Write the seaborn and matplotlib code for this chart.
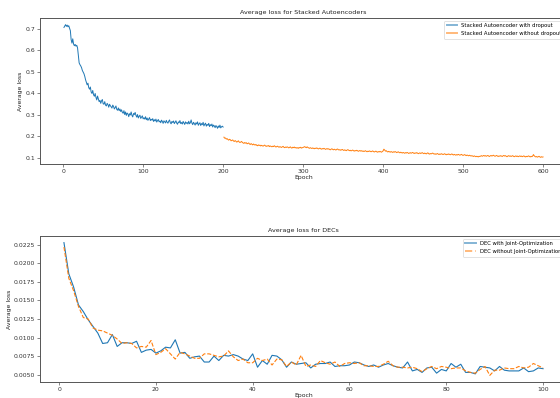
import numpy as np
import pandas as pd
import matplotlib
matplotlib.use("Agg")
import matplotlib.pyplot as plt
import seaborn as sns

# ---------------- data ----------------
sae_dropout_loss = [
    0.705, 0.712, 0.718, 0.710, 0.716, 0.708, 0.713, 0.702, 0.690, 0.648,
    0.632, 0.652, 0.628, 0.620, 0.626, 0.618, 0.622, 0.610, 0.575, 0.540,
    0.532, 0.526, 0.518, 0.505, 0.498, 0.490, 0.478, 0.462, 0.450, 0.438,
    0.446, 0.425, 0.418, 0.428, 0.405, 0.398, 0.412, 0.392, 0.385, 0.398,
    0.380, 0.368, 0.386, 0.372, 0.360, 0.366, 0.352, 0.364, 0.370, 0.350,
    0.348, 0.360, 0.344, 0.340, 0.352, 0.346, 0.334, 0.348, 0.341, 0.336,
    0.330, 0.344, 0.338, 0.326, 0.332, 0.340, 0.324, 0.320, 0.331, 0.318,
    0.326, 0.314, 0.322, 0.310, 0.306, 0.318, 0.300, 0.312, 0.296, 0.307,
    0.303, 0.290, 0.304, 0.298, 0.312, 0.296, 0.289, 0.305, 0.300, 0.310,
    0.296, 0.288, 0.300, 0.284, 0.292, 0.297, 0.282, 0.288, 0.294, 0.280,
    0.285, 0.279, 0.290, 0.276, 0.284, 0.273, 0.280, 0.286, 0.272, 0.278,
    0.274, 0.281, 0.268, 0.276, 0.270, 0.279, 0.265, 0.272, 0.277, 0.266,
    0.270, 0.262, 0.274, 0.268, 0.259, 0.271, 0.266, 0.261, 0.273, 0.264,
    0.260, 0.269, 0.275, 0.262, 0.257, 0.268, 0.263, 0.270, 0.258, 0.264,
    0.271, 0.260, 0.255, 0.266, 0.262, 0.272, 0.258, 0.263, 0.256, 0.268,
    0.261, 0.254, 0.266, 0.259, 0.263, 0.256, 0.269, 0.257, 0.262, 0.275,
    0.260, 0.253, 0.264, 0.258, 0.251, 0.262, 0.256, 0.266, 0.250, 0.257,
    0.262, 0.249, 0.258, 0.253, 0.264, 0.247, 0.255, 0.260, 0.246, 0.254,
    0.250, 0.259, 0.244, 0.253, 0.248, 0.256, 0.242, 0.251, 0.247, 0.239,
    0.249, 0.244, 0.236, 0.247, 0.240, 0.251, 0.238, 0.243, 0.246, 0.242,
]
sae_nodropout_loss = [
    0.195, 0.190, 0.191, 0.186, 0.188, 0.184, 0.181, 0.185, 0.183, 0.178,
    0.180, 0.182, 0.177, 0.175, 0.179, 0.176, 0.172, 0.174, 0.178, 0.173,
    0.170, 0.172, 0.175, 0.171, 0.168, 0.166, 0.170, 0.167, 0.169, 0.164,
    0.166, 0.168, 0.163, 0.161, 0.165, 0.162, 0.159, 0.163, 0.160, 0.158,
    0.161, 0.157, 0.155, 0.159, 0.156, 0.158, 0.154, 0.157, 0.155, 0.153,
    0.156, 0.158, 0.154, 0.152, 0.155, 0.153, 0.156, 0.151, 0.154, 0.152,
    0.150, 0.153, 0.151, 0.155, 0.152, 0.149, 0.151, 0.153, 0.150, 0.148,
    0.151, 0.149, 0.147, 0.150, 0.152, 0.148, 0.146, 0.149, 0.147, 0.150,
    0.148, 0.145, 0.147, 0.150, 0.146, 0.144, 0.148, 0.146, 0.149, 0.145,
    0.147, 0.144, 0.146, 0.143, 0.147, 0.145, 0.148, 0.144, 0.146, 0.147,
    0.149, 0.151, 0.148, 0.146, 0.150, 0.147, 0.145, 0.143, 0.146, 0.144,
    0.142, 0.145, 0.143, 0.141, 0.144, 0.142, 0.145, 0.143, 0.140, 0.142,
    0.144, 0.141, 0.139, 0.142, 0.140, 0.143, 0.141, 0.138, 0.140, 0.142,
    0.139, 0.141, 0.138, 0.136, 0.139, 0.141, 0.138, 0.136, 0.139, 0.137,
    0.135, 0.138, 0.140, 0.137, 0.135, 0.137, 0.134, 0.136, 0.138, 0.135,
    0.133, 0.136, 0.134, 0.132, 0.135, 0.137, 0.134, 0.132, 0.134, 0.131,
    0.133, 0.135, 0.132, 0.130, 0.133, 0.131, 0.134, 0.132, 0.129, 0.131,
    0.133, 0.130, 0.132, 0.129, 0.131, 0.128, 0.130, 0.132, 0.129, 0.127,
    0.130, 0.128, 0.131, 0.129, 0.127, 0.129, 0.131, 0.128, 0.126, 0.128,
    0.130, 0.127, 0.125, 0.128, 0.126, 0.129, 0.127, 0.125, 0.128, 0.131,
    0.139, 0.135, 0.130, 0.132, 0.128, 0.126, 0.129, 0.127, 0.125, 0.128,
    0.126, 0.124, 0.127, 0.125, 0.128, 0.126, 0.123, 0.125, 0.127, 0.124,
    0.122, 0.125, 0.123, 0.121, 0.124, 0.122, 0.120, 0.123, 0.121, 0.124,
    0.122, 0.119, 0.121, 0.123, 0.120, 0.122, 0.124, 0.121, 0.119, 0.122,
    0.120, 0.123, 0.121, 0.118, 0.120, 0.122, 0.119, 0.121, 0.123, 0.120,
    0.118, 0.121, 0.119, 0.117, 0.120, 0.122, 0.118, 0.116, 0.119, 0.117,
    0.119, 0.121, 0.118, 0.116, 0.118, 0.115, 0.117, 0.119, 0.116, 0.114,
    0.117, 0.115, 0.118, 0.116, 0.114, 0.116, 0.118, 0.115, 0.113, 0.116,
    0.114, 0.117, 0.115, 0.113, 0.115, 0.117, 0.114, 0.112, 0.115, 0.113,
    0.111, 0.114, 0.112, 0.115, 0.113, 0.111, 0.113, 0.115, 0.112, 0.110,
    0.112, 0.114, 0.111, 0.109, 0.112, 0.110, 0.108, 0.111, 0.109, 0.107,
    0.109, 0.107, 0.105, 0.108, 0.106, 0.104, 0.106, 0.105, 0.103, 0.106,
    0.105, 0.107, 0.109, 0.106, 0.108, 0.110, 0.107, 0.109, 0.106, 0.108,
    0.110, 0.107, 0.105, 0.108, 0.110, 0.107, 0.109, 0.111, 0.108, 0.106,
    0.108, 0.110, 0.107, 0.105, 0.108, 0.106, 0.109, 0.107, 0.105, 0.108,
    0.110, 0.107, 0.109, 0.106, 0.104, 0.107, 0.109, 0.106, 0.108, 0.105,
    0.107, 0.109, 0.106, 0.104, 0.106, 0.108, 0.105, 0.107, 0.104, 0.106,
    0.108, 0.105, 0.107, 0.104, 0.106, 0.108, 0.105, 0.103, 0.106, 0.104,
    0.106, 0.108, 0.105, 0.103, 0.106, 0.104, 0.107, 0.114, 0.108, 0.105,
    0.103, 0.105, 0.102, 0.104, 0.106, 0.103, 0.101, 0.104, 0.102, 0.103,
]
sae_dropout_epochs = list(range(1, 201))
sae_nodropout_epochs = list(range(201, 601))

dec_joint_loss = [
    0.0228, 0.0186, 0.0168, 0.0144, 0.0135, 0.0124, 0.0115, 0.0106, 0.0092, 0.0093,
    0.0104, 0.0088, 0.0093, 0.0093, 0.0092, 0.0095, 0.0080, 0.0083, 0.0084, 0.0079,
    0.0082, 0.0087, 0.0086, 0.0097, 0.0079, 0.0080, 0.0072, 0.0074, 0.0075, 0.0067,
    0.0067, 0.0075, 0.0069, 0.0076, 0.0075, 0.0077, 0.0075, 0.0071, 0.0069, 0.0078,
    0.0060, 0.0069, 0.0064, 0.0076, 0.0075, 0.0070, 0.0060, 0.0067, 0.0064, 0.0065,
    0.0066, 0.0059, 0.0064, 0.0065, 0.0065, 0.0067, 0.0061, 0.0062, 0.0062, 0.0063,
    0.0067, 0.0066, 0.0063, 0.0061, 0.0063, 0.0060, 0.0063, 0.0065, 0.0062, 0.0060,
    0.0059, 0.0067, 0.0055, 0.0057, 0.0053, 0.0059, 0.0060, 0.0052, 0.0057, 0.0055,
    0.0065, 0.0060, 0.0064, 0.0053, 0.0053, 0.0051, 0.0061, 0.0060, 0.0059, 0.0055,
    0.0061, 0.0056, 0.0055, 0.0055, 0.0055, 0.0059, 0.0054, 0.0055, 0.0059, 0.0058,
]
dec_nojoint_loss = [
    0.0222, 0.0180, 0.0163, 0.0142, 0.0127, 0.0125, 0.0113, 0.0110, 0.0109, 0.0106,
    0.0103, 0.0098, 0.0092, 0.0093, 0.0092, 0.0086, 0.0088, 0.0087, 0.0096, 0.0077,
    0.0080, 0.0085, 0.0078, 0.0071, 0.0080, 0.0078, 0.0075, 0.0072, 0.0072, 0.0078,
    0.0078, 0.0076, 0.0074, 0.0075, 0.0082, 0.0074, 0.0069, 0.0071, 0.0066, 0.0066,
    0.0072, 0.0069, 0.0071, 0.0063, 0.0071, 0.0070, 0.0061, 0.0067, 0.0063, 0.0076,
    0.0061, 0.0063, 0.0061, 0.0069, 0.0066, 0.0064, 0.0067, 0.0061, 0.0065, 0.0066,
    0.0065, 0.0066, 0.0062, 0.0062, 0.0061, 0.0061, 0.0064, 0.0068, 0.0062, 0.0060,
    0.0060, 0.0059, 0.0060, 0.0058, 0.0054, 0.0058, 0.0061, 0.0058, 0.0061, 0.0060,
    0.0058, 0.0059, 0.0059, 0.0055, 0.0053, 0.0052, 0.0057, 0.0061, 0.0049, 0.0056,
    0.0056, 0.0059, 0.0058, 0.0058, 0.0061, 0.0059, 0.0060, 0.0065, 0.0062, 0.0059,
]
dec_epochs = list(range(1, 101))

top_title = "Average loss for Stacked Autoencoders"
bottom_title = "Average loss for DECs"
x_label = "Epoch"
y_label = "Average loss"
sae_labels = ["Stacked Autoencoder with dropout", "Stacked Autoencoder without dropout"]
dec_labels = ["DEC with Joint-Optimization", "DEC without Joint-Optimization"]

# ---------------- figure ----------------
BLUE = "#1f77b4"
ORANGE = "#ff7f0e"
FS = 4.4

plt.rcParams.update({
    "font.family": ["DejaVu Sans"],
    "axes.edgecolor": "#555555",
    "axes.linewidth": 0.7,
    "xtick.color": "#555555",
    "ytick.color": "#555555",
    "xtick.labelcolor": "#333333",
    "ytick.labelcolor": "#333333",
    "xtick.major.size": 2,
    "ytick.major.size": 2,
    "xtick.major.width": 0.5,
    "ytick.major.width": 0.5,
    "xtick.major.pad": 1.5,
    "ytick.major.pad": 1.5,
})

fig = plt.figure(figsize=(5.6, 3.98), dpi=100)
ax1 = fig.add_axes([40 / 560, 1 - 164 / 398, 527 / 560, 146 / 398])
ax2 = fig.add_axes([40 / 560, 1 - 382 / 398, 527 / 560, 146 / 398])

df_a = pd.DataFrame({"epoch": sae_dropout_epochs, "loss": sae_dropout_loss})
df_b = pd.DataFrame({"epoch": sae_nodropout_epochs, "loss": sae_nodropout_loss})
sns.lineplot(data=df_a, x="epoch", y="loss", ax=ax1, color=BLUE, linewidth=0.7, label=sae_labels[0])
sns.lineplot(data=df_b, x="epoch", y="loss", ax=ax1, color=ORANGE, linewidth=0.7, label=sae_labels[1])

df_c = pd.DataFrame({"epoch": dec_epochs, "loss": dec_joint_loss})
df_d = pd.DataFrame({"epoch": dec_epochs, "loss": dec_nojoint_loss})
sns.lineplot(data=df_c, x="epoch", y="loss", ax=ax2, color=BLUE, linewidth=0.8, label=dec_labels[0])
sns.lineplot(data=df_d, x="epoch", y="loss", ax=ax2, color=ORANGE, linewidth=0.8,
             linestyle="--", label=dec_labels[1])

for ax, title in ((ax1, top_title), (ax2, bottom_title)):
    ax.set_title(title, fontsize=4.6, pad=3, color="#222222")
    ax.set_xlabel(x_label, fontsize=FS, labelpad=1, color="#222222")
    ax.set_ylabel(y_label, fontsize=FS, labelpad=1.5, color="#222222")
    ax.tick_params(labelsize=FS)
    leg = ax.legend(loc="upper right", fontsize=3.8, frameon=True, handlelength=2.0,
                    borderpad=0.5, labelspacing=0.5, handletextpad=0.8)
    leg.get_frame().set_linewidth(0.5)
    for h in leg.get_lines():
        h.set_linewidth(1.4)
        h.set_alpha(0.55)

ax1.set_xticks([0, 100, 200, 300, 400, 500, 600])
ax1.set_yticks([0.1, 0.2, 0.3, 0.4, 0.5, 0.6, 0.7])
ax2.set_xticks([0, 20, 40, 60, 80, 100])
ax2.set_yticks([0.0050, 0.0075, 0.0100, 0.0125, 0.0150, 0.0175, 0.0200, 0.0225])
ax2.set_yticklabels(["0.0050", "0.0075", "0.0100", "0.0125", "0.0150", "0.0175", "0.0200", "0.0225"])

fig.savefig("out.png", dpi=100)
